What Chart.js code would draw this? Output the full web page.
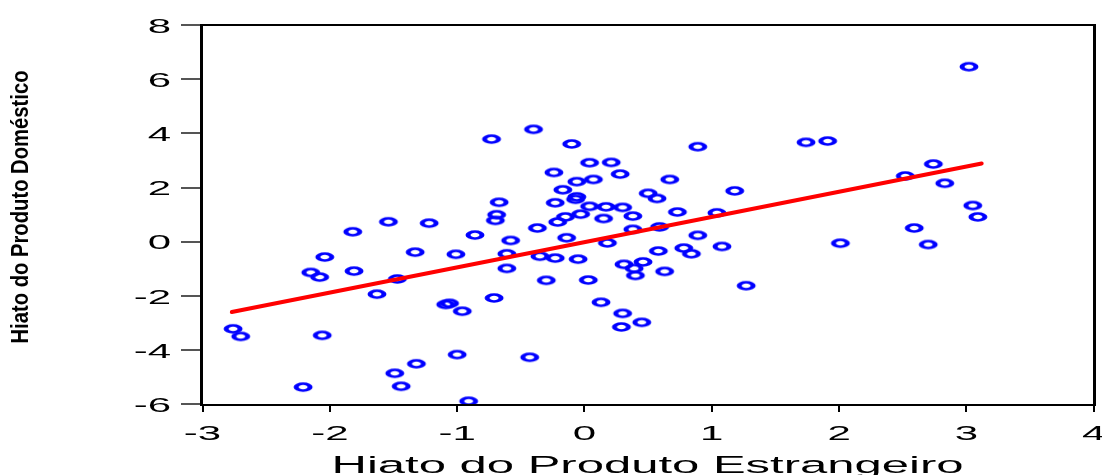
<!DOCTYPE html>
<html>
<head>
<meta charset="utf-8">
<title>Hiato do Produto</title>
<script src="https://cdn.jsdelivr.net/npm/chart.js@4/dist/chart.umd.min.js"></script>
<style>
  html, body { margin: 0; padding: 0; background: #ffffff; }
  #chart { display: block; }
</style>
</head>
<body>
<canvas id="chart" width="1102" height="475"></canvas>
<script>
// Hiato do produto estrangeiro (x) versus hiato do produto doméstico (y)
const foreignGap = [
  3.02, -0.40, -0.73, -0.10, 0.89, 0.04, 0.21, -0.24, 0.28, -0.06,
  0.07, 0.67, -0.17, 1.18, -0.67, -0.23, -0.06, -0.07, 0.50, 0.57,
  -0.69, -0.70, 0.04, 0.17, 0.30, -0.15, -0.03, -0.21, 0.15, 0.38,
  0.73, 1.04, -0.37, -0.86, 0.38, 0.59, -0.58, -0.14, 0.18, 0.89,
  -1.01, -0.61, -0.35, -0.23, -0.05, 0.58, 0.78, 0.84, 1.08, -0.61,
  0.31, 0.46, 0.39, 0.40, 0.63, -0.30, 0.03, 1.27, -0.71, 0.13,
  0.30, 0.45, 0.29, -1.00, -0.43, -0.91, -0.96, -1.06, -1.09, -1.54,
  -1.22, -1.82, -2.04, -1.33, -2.15, -2.08, -1.81, -1.47, -1.63, -2.76,
  -2.70, -2.06, -1.32, -1.49, -1.44, -2.21, 1.74, 1.91, 2.74, 2.52,
  2.83, 3.05, 3.09, 2.59, 2.01, 2.70
];
const domesticGap = [
  6.46, 4.15, 3.79, 3.61, 3.51, 2.92, 2.93, 2.56, 2.50, 2.22,
  2.30, 2.30, 1.92, 1.88, 1.46, 1.44, 1.66, 1.57, 1.79, 1.60,
  1.00, 0.79, 1.31, 1.29, 1.27, 0.92, 1.02, 0.73, 0.86, 0.95,
  1.10, 1.07, 0.51, 0.25, 0.46, 0.55, 0.05, 0.15, -0.04, 0.24,
  -0.46, -0.44, -0.53, -0.60, -0.64, -0.34, -0.23, -0.44, -0.17, -0.98,
  -0.83, -0.74, -0.98, -1.24, -1.09, -1.42, -1.41, -1.62, -2.07, -2.23,
  -2.64, -2.97, -3.14, -4.16, -4.26, -5.88, -2.56, -2.27, -2.31, 0.74,
  0.69, 0.37, -0.56, -0.38, -1.13, -1.30, -1.08, -1.37, -1.93, -3.21,
  -3.49, -3.45, -4.50, -4.85, -5.33, -5.36, 3.67, 3.72, 2.87, 2.43,
  2.16, 1.34, 0.92, 0.51, -0.05, -0.10
];

// Regression line endpoints
const fitX = [-2.77, 3.12];
const fitY = [-2.59, 2.89];

// Axis ticks and titles
const xTicks = [-3, -2, -1, 0, 1, 2, 3, 4];
const yTicks = [-6, -4, -2, 0, 2, 4, 6, 8];
const xTitle = 'Hiato do Produto Estrangeiro';
const yTitle = 'Hiato do Produto Doméstico';

const FONT = '"Liberation Sans", Arial, sans-serif';
const STRETCH = 2; // horizontal stretch of glyphs and markers

// Open ellipse marker
function makeMarker() {
  const c = document.createElement('canvas');
  c.width = 24; c.height = 12;
  const g = c.getContext('2d');
  g.setTransform(2, 0, 0, 1, 0, 0);
  g.beginPath();
  g.arc(6, 6, 3.5, 0, Math.PI * 2);
  g.strokeStyle = '#0000ff';
  g.lineWidth = 2.5;
  g.stroke();
  return c;
}

function stretchedText(ctx, text, x, y, size, align) {
  ctx.save();
  ctx.font = size + 'px ' + FONT;
  ctx.fillStyle = '#000000';
  ctx.textAlign = align;
  ctx.textBaseline = 'alphabetic';
  ctx.translate(x, y);
  ctx.scale(STRETCH, 1);
  ctx.fillText(text, 0, 0);
  ctx.restore();
}

const decorations = {
  id: 'decorations',
  afterDraw(chart) {
    const ctx = chart.ctx;
    const a = chart.chartArea;
    const xs = chart.scales.x, ys = chart.scales.y;

    // plot frame
    ctx.save();
    ctx.fillStyle = '#000000';
    ctx.fillRect(a.left, a.top - 1, a.right - a.left, 2);      // top
    ctx.fillRect(a.left, a.bottom - 1, a.right - a.left, 2);   // bottom
    ctx.fillRect(a.left, a.top - 1, 3, a.bottom - a.top + 2);  // left
    ctx.fillRect(a.right - 2, a.top - 1, 3, a.bottom - a.top + 2); // right
    ctx.restore();

    // tick labels
    yTicks.forEach(v => {
      stretchedText(ctx, String(v), 171, ys.getPixelForValue(v) + 7.5, 21, 'right');
    });
    xTicks.forEach(v => {
      stretchedText(ctx, String(v), xs.getPixelForValue(v), 440, 21, 'center');
    });

    // axis titles
    stretchedText(ctx, xTitle, (a.left + a.right) / 2, 473, 24.5, 'center');

    ctx.save();
    ctx.font = 'bold 22px ' + FONT;
    ctx.fillStyle = '#000000';
    ctx.textAlign = 'center';
    ctx.textBaseline = 'middle';
    const w = ctx.measureText(yTitle).width;
    ctx.translate(22, 207);
    ctx.rotate(-Math.PI / 2);
    ctx.scale(273 / w, 1.05);
    ctx.fillText(yTitle, 0, 0);
    ctx.restore();
  }
};

const points = foreignGap.map((x, i) => ({ x: x, y: domesticGap[i] }));
const fitLine = fitX.map((x, i) => ({ x: x, y: fitY[i] }));

new Chart(document.getElementById('chart'), {
  type: 'scatter',
  data: {
    datasets: [
      {
        label: 'Ajuste',
        type: 'line',
        data: fitLine,
        borderColor: '#ff0000',
        borderWidth: 4,
        borderCapStyle: 'round',
        pointRadius: 0,
        fill: false
      },
      {
        label: 'Hiato',
        data: points,
        pointStyle: makeMarker(),
        pointRadius: 6,
        pointHoverRadius: 6
      }
    ]
  },
  options: {
    responsive: false,
    animation: false,
    devicePixelRatio: 1,
    layout: { padding: { top: 25, right: 5, left: 0, bottom: 0 } },
    plugins: {
      legend: { display: false },
      tooltip: { enabled: false }
    },
    scales: {
      x: {
        type: 'linear',
        min: -3.02,
        max: 4.01,
        border: { display: false },
        grid: { drawOnChartArea: false, drawTicks: true, tickLength: 7, color: '#000000', lineWidth: 2 },
        ticks: { display: false },
        afterBuildTicks: s => { s.ticks = xTicks.map(v => ({ value: v })); },
        afterFit: s => { s.height = 70; }
      },
      y: {
        type: 'linear',
        min: -6.02,
        max: 8,
        border: { display: false },
        grid: { drawOnChartArea: false, drawTicks: true, tickLength: 19, color: '#555555', lineWidth: 2 },
        ticks: { display: false },
        afterBuildTicks: s => { s.ticks = yTicks.map(v => ({ value: v })); },
        afterFit: s => { s.width = 200; }
      }
    }
  },
  plugins: [decorations]
});
</script>
</body>
</html>
